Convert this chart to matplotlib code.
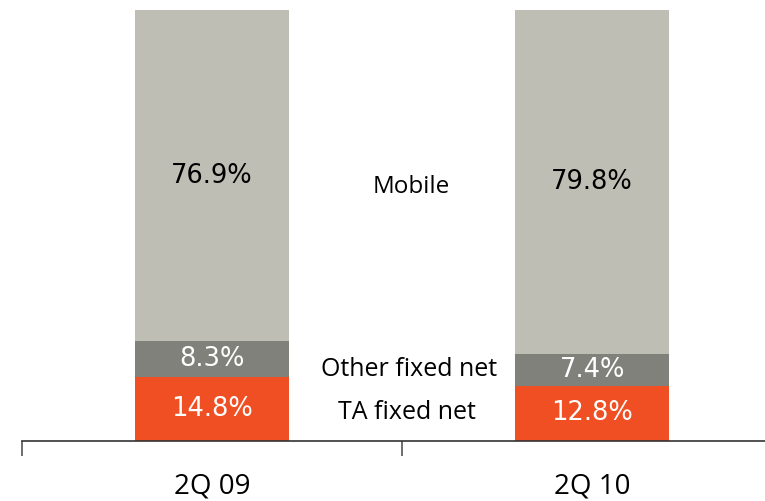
import matplotlib
matplotlib.use("Agg")
import matplotlib.pyplot as plt
import numpy as np

categories = ["2Q 09", "2Q 10"]
series_names = ["TA fixed net", "Other fixed net", "Mobile"]
ta_fixed = [14.8, 12.8]
other_fixed = [8.3, 7.4]
mobile = [76.9, 79.8]
colors = ["#F04F23", "#80817A", "#BEBEB4"]
label_colors = ["white", "white", "black"]

fig = plt.figure(figsize=(7.65, 5.01), dpi=100)
ax = fig.add_axes([22/765, 60/501, 1 - 22/765, 431/501])

x = np.arange(len(categories))
bottom = np.zeros(len(categories))
for vals, col, lc in zip([ta_fixed, other_fixed, mobile], colors, label_colors):
    vals = np.array(vals)
    ax.bar(x, vals, bottom=bottom, width=0.403, color=col, edgecolor="none")
    for xi, v, b in zip(x, vals, bottom):
        ax.text(xi, b + v / 2, f"{v:.1f}%", ha="center", va="center",
                color=lc, fontsize=18.5, family="DejaVu Sans")
    bottom += vals

# series names between bars
ax.text(0.513, 6.7, series_names[0], ha="center", va="center",
        fontsize=18, family="Open Sans")
ax.text(0.518, 16.7, series_names[1], ha="center", va="center",
        fontsize=18, family="Open Sans")
ax.text(0.524, 58.9, series_names[2], ha="center", va="center",
        fontsize=17.5, family="Open Sans")

ax.set_ylim(0, 100)
for s in ["top", "right", "left"]:
    ax.spines[s].set_visible(False)
ax.spines["bottom"].set_color("#333333")
ax.spines["bottom"].set_linewidth(1.2)
ax.set_yticks([])

ax.set_xticks(x)
ax.set_xticklabels(categories, fontsize=20, family="Open Sans")
ax.tick_params(axis="x", which="major", length=0, pad=23)
ax.set_xticks([-0.5, 0.5, 1.5], minor=True)
ax.tick_params(axis="x", which="minor", length=11, width=1.2, color="#555555")
ax.set_xlim(-0.5, 1.455)

fig.savefig("out.png", dpi=100)
